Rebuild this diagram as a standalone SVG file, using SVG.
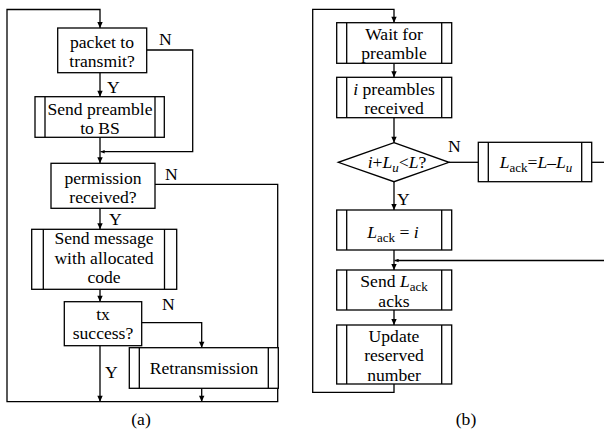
<svg xmlns="http://www.w3.org/2000/svg" width="604" height="429" viewBox="0 0 604 429" font-family="'Liberation Serif', 'DejaVu Serif', serif">
<defs>
<marker id="ah" viewBox="0 0 10 10" refX="10" refY="5" markerWidth="7" markerHeight="6" orient="auto" markerUnits="userSpaceOnUse"><path d="M0,0.5 L10,5 L0,9.5 z" fill="#000"/></marker>
<marker id="sm" viewBox="0 0 10 10" refX="10" refY="5" markerWidth="5" markerHeight="4" orient="auto" markerUnits="userSpaceOnUse"><path d="M0,0.5 L10,5 L0,9.5 z" fill="#000"/></marker>
<style>
.b{fill:#fff;stroke:#000;stroke-width:1.3}
.bar{stroke:#000;stroke-width:1.3;fill:none}
.c{fill:none;stroke:#000;stroke-width:1.3}
.a{marker-end:url(#ah)}
.s{marker-end:url(#sm)}
text{font-family:'Liberation Serif','DejaVu Serif',serif;font-size:17.6px;fill:#000}
.m{text-anchor:middle}
.i{font-style:italic}
.sub{font-size:13px}
</style>
</defs>
<rect width="604" height="429" fill="#fff"/>

<g id="connectors">
<path class="c a" d="M155,184.3 H277.7 V401.7 H7 V9.5 H100 V28"/>
<path class="c a" d="M100,72.7 V96.7"/>
<path class="c s" d="M146.7,50 H192.7 V151.7 H100.6"/>
<path class="c a" d="M100,137.3 V163.3"/>
<path class="c a" d="M100,208.3 V229.3"/>
<path class="c a" d="M100,289.3 V301.7"/>
<path class="c a" d="M141.7,322.7 H201.7 V347.7"/>
<path class="c a" d="M100,345.7 V401.7"/>
<path class="c a" d="M201.7,388.3 V401.7"/>

<path class="c a" d="M394,384 V392.3 H312.7 V9.3 H394 V22.7"/>
<path class="c a" d="M394,63.3 V77.3"/>
<path class="c a" d="M394,117.7 V142.7"/>
<path class="c" d="M449,162.3 H478.3"/>
<path class="c" d="M591.7,162.3 H604"/>
<path class="c a" d="M394,181.7 V210"/>
<path class="c a" d="M394,250 V270"/>
<path class="c s" d="M604,260.5 H394.6"/>
<path class="c a" d="M394,310 V325"/>
</g>

<g id="labels">
<text x="159" y="45">N</text>
<text x="107" y="93">Y</text>
<text x="165" y="180">N</text>
<text x="109" y="225">Y</text>
<text x="162" y="310">N</text>
<text x="105" y="378">Y</text>
<text x="448" y="152">N</text>
<text x="397" y="205">Y</text>
<text class="m" x="141" y="425">(a)</text>
<text class="m" x="466" y="425">(b)</text>
</g>

<g id="packet">
<rect class="b" x="57.7" y="28" width="89" height="44.7"/>
<text class="m" x="102" y="47.5">packet to</text>
<text class="m" x="102" y="67">transmit?</text>
</g>

<g id="preamble">
<rect class="b" x="35" y="96.7" width="129.3" height="40.6"/>
<path class="bar" d="M45,96.7 V137.3 M155,96.7 V137.3"/>
<text class="m" x="100" y="114.5">Send preamble</text>
<text class="m" x="100" y="134">to BS</text>
</g>

<g id="permission">
<rect class="b" x="51" y="163.3" width="104" height="45"/>
<text class="m" x="103" y="183.5">permission</text>
<text class="m" x="103" y="203">received?</text>
</g>

<g id="message">
<rect class="b" x="31.7" y="229.3" width="145" height="60"/>
<path class="bar" d="M43.3,229.3 V289.3 M164.5,229.3 V289.3"/>
<text class="m" x="104" y="244">Send message</text>
<text class="m" x="104" y="263.5">with allocated</text>
<text class="m" x="104" y="283">code</text>
</g>

<g id="tx">
<rect class="b" x="64.3" y="301.7" width="77.4" height="44"/>
<text class="m" x="103" y="319.5">tx</text>
<text class="m" x="103" y="339">success?</text>
</g>

<g id="retrans">
<rect class="b" x="129.3" y="347.7" width="149" height="40.6"/>
<path class="bar" d="M139.3,347.7 V388.3 M268.3,347.7 V388.3"/>
<text class="m" x="204" y="374">Retransmission</text>
</g>

<g id="wait">
<rect class="b" x="336.7" y="22.7" width="115" height="40.6"/>
<path class="bar" d="M346.7,22.7 V63.3 M441.7,22.7 V63.3"/>
<text class="m" x="394" y="39.5">Wait for</text>
<text class="m" x="394" y="59">preamble</text>
</g>

<g id="ipre">
<rect class="b" x="336.7" y="77.3" width="115" height="40.4"/>
<path class="bar" d="M346.7,77.3 V117.7 M441.7,77.3 V117.7"/>
<text class="m" x="394" y="94.5"><tspan class="i">i</tspan> preambles</text>
<text class="m" x="394" y="114">received</text>
</g>

<g id="decision">
<path class="b" d="M394,142.7 L449,162.3 L394,181.7 L338.3,162.3 Z"/>
<text class="m" x="397" y="168"><tspan class="i">i</tspan>+<tspan class="i">L</tspan><tspan class="i sub" dy="4">u</tspan><tspan dy="-4">&lt;</tspan><tspan class="i">L</tspan>?</text>
</g>

<g id="lackN">
<rect class="b" x="478.3" y="142.3" width="113.4" height="39.4"/>
<path class="bar" d="M488.3,142.3 V181.7 M581.7,142.3 V181.7"/>
<text class="m" x="536" y="168"><tspan class="i">L</tspan><tspan class="sub" dy="4">ack</tspan><tspan dy="-4">=</tspan><tspan class="i">L</tspan>–<tspan class="i">L</tspan><tspan class="i sub" dy="4">u</tspan></text>
</g>

<g id="lackY">
<rect class="b" x="336.7" y="210" width="115" height="40"/>
<path class="bar" d="M346.7,210 V250 M441.7,210 V250"/>
<text class="m" x="393" y="238"><tspan class="i">L</tspan><tspan class="sub" dy="4">ack</tspan><tspan dy="-4"> = </tspan><tspan class="i">i</tspan></text>
</g>

<g id="send">
<rect class="b" x="336.7" y="270" width="115" height="40"/>
<path class="bar" d="M346.7,270 V310 M441.7,270 V310"/>
<text class="m" x="394" y="287">Send  <tspan class="i">L</tspan><tspan class="sub" dy="4">ack</tspan></text>
<text class="m" x="394" y="306.5">acks</text>
</g>

<g id="update">
<rect class="b" x="336.7" y="325" width="115" height="59"/>
<path class="bar" d="M346.7,325 V384 M441.7,325 V384"/>
<text class="m" x="394" y="341.5">Update</text>
<text class="m" x="394" y="361">reserved</text>
<text class="m" x="394" y="380.5">number</text>
</g>
</svg>
